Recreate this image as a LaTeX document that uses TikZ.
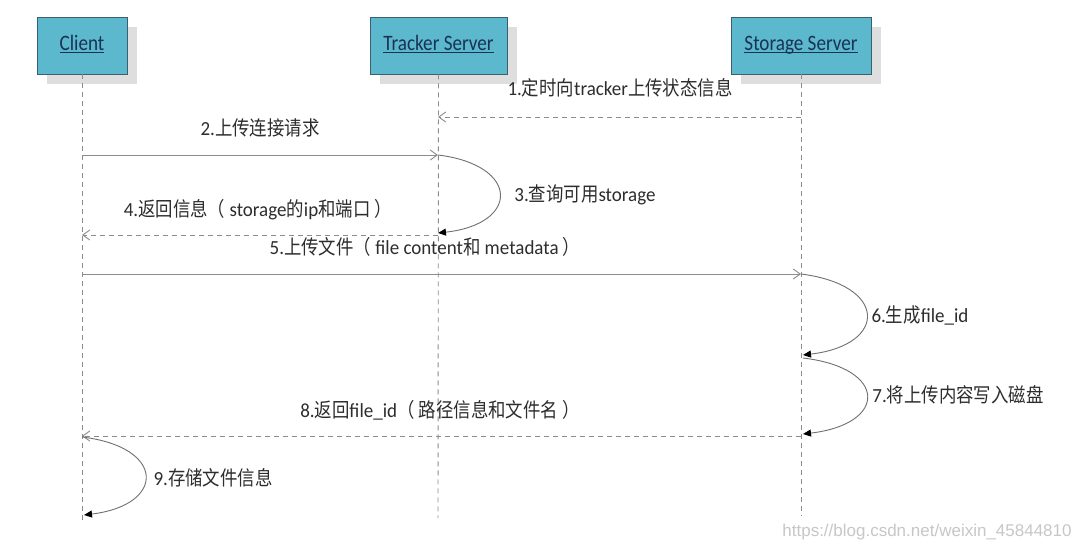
\documentclass[tikz,border=0pt]{standalone}
\usepackage{fontspec}
\usetikzlibrary{arrows.meta}
\setmainfont{Carlito}
\newfontfamily\latf[FakeStretch=0.95]{Carlito}
\newfontfamily\boxf[FakeStretch=0.87]{Carlito}
\newfontfamily\cjkf[FakeStretch=0.87]{Noto Sans CJK SC}
\newfontfamily\wmf{Liberation Sans}
\newcommand{\C}[1]{{\cjkf #1}}
\newcommand{\myul}[1]{\underline{\smash{#1}}}
\definecolor{boxfill}{RGB}{92,184,204}
\definecolor{boxline}{RGB}{60,95,110}
\definecolor{boxtext}{RGB}{25,50,85}
\definecolor{shadowc}{RGB}{222,222,222}
\definecolor{linec}{RGB}{140,140,140}
\definecolor{textc}{RGB}{45,45,45}
\begin{document}
\begin{tikzpicture}[x=1pt,y=-1pt,
  actor/.style={draw=boxline,line width=0.8pt,fill=boxfill,minimum height=57pt,inner sep=0pt,
    text height=14pt,text depth=4pt,
    font=\boxf\fontsize{22}{24}\selectfont,text=boxtext},
  lifeline/.style={draw=linec,line width=0.9pt,dash pattern=on 5pt off 4pt},
  msg/.style={draw=linec,line width=0.9pt,-{Straight Barb[length=7pt,width=10pt]}},
  ret/.style={msg,dash pattern=on 5pt off 4pt},
  selfloop/.style={draw=linec!80!black,line width=0.9pt,-{Triangle[length=8pt,width=7pt,fill=black,color=black]}},
  lbl/.style={font=\latf\fontsize{20}{22}\selectfont,text=textc,inner sep=1pt}]
\useasboundingbox (0,0) rectangle (1072,550);
\fill[white] (0,0) rectangle (1072,550);
% shadows
\fill[shadowc] (47,27) rectangle (137,84);
\fill[shadowc] (380,27) rectangle (517,84);
\fill[shadowc] (741,27) rectangle (881,84);
% actors
\node[actor,minimum width=90pt] (client) at (82,45.5) {\myul{Client}};
\node[actor,minimum width=137pt] (tracker) at (438.5,45.5) {\myul{Tracker Server}};
\node[actor,minimum width=140pt] (storage) at (801,45.5) {\myul{Storage Server}};
% lifeline ends
\coordinate (cend) at (82,520);
\coordinate (tend) at (438,518);
\coordinate (send) at (801,516);
\draw[lifeline] (client.south) -- (cend);
\draw[lifeline] (tracker.south) -- (tend);
\draw[lifeline] (storage.south) -- (send);
% message points
\coordinate (s1) at (801,117); \coordinate (t1) at (438,117);
\coordinate (c2) at (82,155);  \coordinate (t2) at (438,155);
\coordinate (t3) at (438,233);
\coordinate (t4) at (438,235); \coordinate (c4) at (82,235);
\coordinate (c5) at (82,274);  \coordinate (s5) at (801,274);
\coordinate (s6) at (803,355);
\coordinate (s7a) at (803,358); \coordinate (s7) at (803,434);
\coordinate (s8) at (801,436); \coordinate (c8) at (82,436);
\coordinate (c9a) at (82,437); \coordinate (c9) at (84,515);
% messages
\draw[ret] (s1) -- (t1);
\node[lbl] (l1) at (620,88) {1.\C{定时向}tracker\C{上传状态信息}};
\draw[msg] (c2) -- (t2);
\node[lbl] (l2) at (260,128) {2.\C{上传连接请求}};
\draw[selfloop] (t2) .. controls (520,165) and (520,224) .. (t3);
\node[lbl] (l3) at (585,195) {3.\C{查询可用}storage};
\draw[ret] (t4) -- (c4);
\node[lbl] (l4) at (258,210) {4.\C{返回信息（} storage\C{的}ip\C{和端口} \C{）}};
\draw[msg] (c5) -- (s5);
\node[lbl] (l5) at (425,247) {5.\C{上传文件（} file content\C{和} metadata \C{）}};
\draw[selfloop] (s5) .. controls (888,285) and (888,345) .. (s6);
\node[lbl] (l6) at (920,315) {6.\C{生成}file\_id};
\draw[selfloop] (s7a) .. controls (888,368) and (888,424) .. (s7);
\node[lbl] (l7) at (958,395) {7.\C{将上传内容写入磁盘}};
\draw[ret] (s8) -- (c8);
\node[lbl] (l8) at (440,410) {8.\C{返回}file\_id\C{（} \C{路径信息和文件名} \C{）}};
\draw[selfloop] (c9a) .. controls (166,447) and (166,505) .. (c9);
\node[lbl] (l9) at (213,478) {9.\C{存储文件信息}};
% watermark
\node[font=\wmf\fontsize{17}{19}\selectfont,text=black!22,inner sep=0pt] (wm) at (927,532) {https://blog.csdn.net/weixin\_45844810};
\end{tikzpicture}
\end{document}
